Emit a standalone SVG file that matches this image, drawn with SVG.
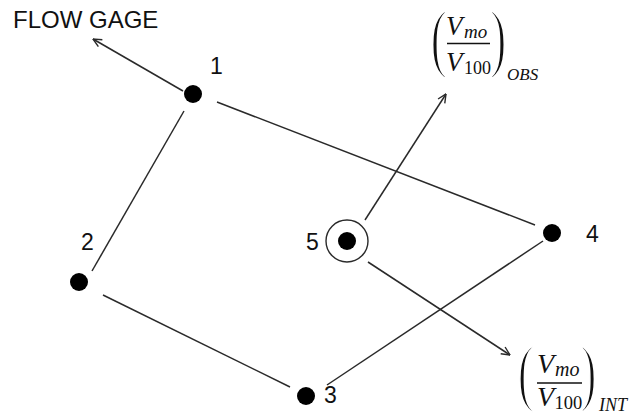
<svg xmlns="http://www.w3.org/2000/svg" width="632" height="413" viewBox="0 0 632 413">
<style>
.lbl{font-family:"Liberation Sans",Arial,sans-serif;font-size:23px;fill:#111}
.m{font-family:"Liberation Serif","Times New Roman",serif;fill:#111}
.i{font-style:italic}
.p{stroke:#fff;stroke-width:2.2;paint-order:normal}
.ln{stroke:#2a2a2a;stroke-width:1.5;fill:none}
.dot{fill:#000}
</style>
<defs>
<marker id="arr" viewBox="0 0 10 10" refX="9.5" refY="5" markerWidth="10" markerHeight="10" markerUnits="userSpaceOnUse" orient="auto">
<path d="M1,1 L9.5,5 L1,9" fill="none" stroke="#2a2a2a" stroke-width="1.4"/>
</marker>
</defs>
<rect width="632" height="413" fill="#fff"/>
<g id="connectors">
<line class="ln" x1="184" y1="111" x2="92" y2="271"/>
<line class="ln" x1="217" y1="102" x2="535" y2="225"/>
<line class="ln" x1="103" y1="295" x2="290" y2="387"/>
<line class="ln" x1="327" y1="385" x2="543" y2="241"/>
<line class="ln" x1="183" y1="91" x2="93" y2="39" marker-end="url(#arr)"/>
<line class="ln" x1="365" y1="220" x2="446" y2="94" marker-end="url(#arr)"/>
<line class="ln" x1="368" y1="262" x2="510" y2="355" marker-end="url(#arr)"/>
</g>
<g id="flowgage">
<text class="lbl" x="13" y="28" style="font-size:24px">FLOW GAGE</text>
</g>
<g id="node1">
<circle class="dot" cx="193" cy="94" r="9"/>
<text class="lbl" x="210" y="74">1</text>
</g>
<g id="node2">
<circle class="dot" cx="79" cy="282" r="9"/>
<text class="lbl" x="81" y="250">2</text>
</g>
<g id="node3">
<circle class="dot" cx="306" cy="396" r="9"/>
<text class="lbl" x="324" y="403">3</text>
</g>
<g id="node4">
<circle class="dot" cx="552" cy="233" r="9"/>
<text class="lbl" x="586" y="242">4</text>
</g>
<g id="node5">
<circle cx="347" cy="241" r="21" fill="none" stroke="#2a2a2a" stroke-width="1.4"/>
<circle class="dot" cx="347" cy="241" r="9"/>
<text class="lbl" x="306" y="250">5</text>
</g>
<g id="obs">
<text class="m p" transform="translate(430.6,63) scale(0.65,1)" font-size="76">(</text>
<text class="m p" transform="translate(490,63) scale(0.65,1)" font-size="76">)</text>
<text class="m i" x="446" y="35" font-size="27">V</text>
<text class="m i" x="464" y="38" font-size="19">mo</text>
<line x1="447" y1="43.5" x2="490" y2="43.5" stroke="#111" stroke-width="1.3"/>
<text class="m i" x="446" y="71" font-size="27">V</text>
<text class="m" x="464" y="74" font-size="18">100</text>
<text class="m i" x="507" y="80" font-size="17">OBS</text>
</g>
<g id="int">
<text class="m p" transform="translate(517.7,397) scale(0.65,1)" font-size="74">(</text>
<text class="m p" transform="translate(580.5,397) scale(0.65,1)" font-size="74">)</text>
<text class="m i" x="537" y="373" font-size="28">V</text>
<text class="m i" x="555" y="376" font-size="20">mo</text>
<line x1="537" y1="383" x2="582" y2="383" stroke="#111" stroke-width="1.3"/>
<text class="m i" x="537" y="406" font-size="28">V</text>
<text class="m" x="554.5" y="409" font-size="18.5">100</text>
<text class="m i" x="599" y="411" font-size="18">INT</text>
</g>
</svg>
